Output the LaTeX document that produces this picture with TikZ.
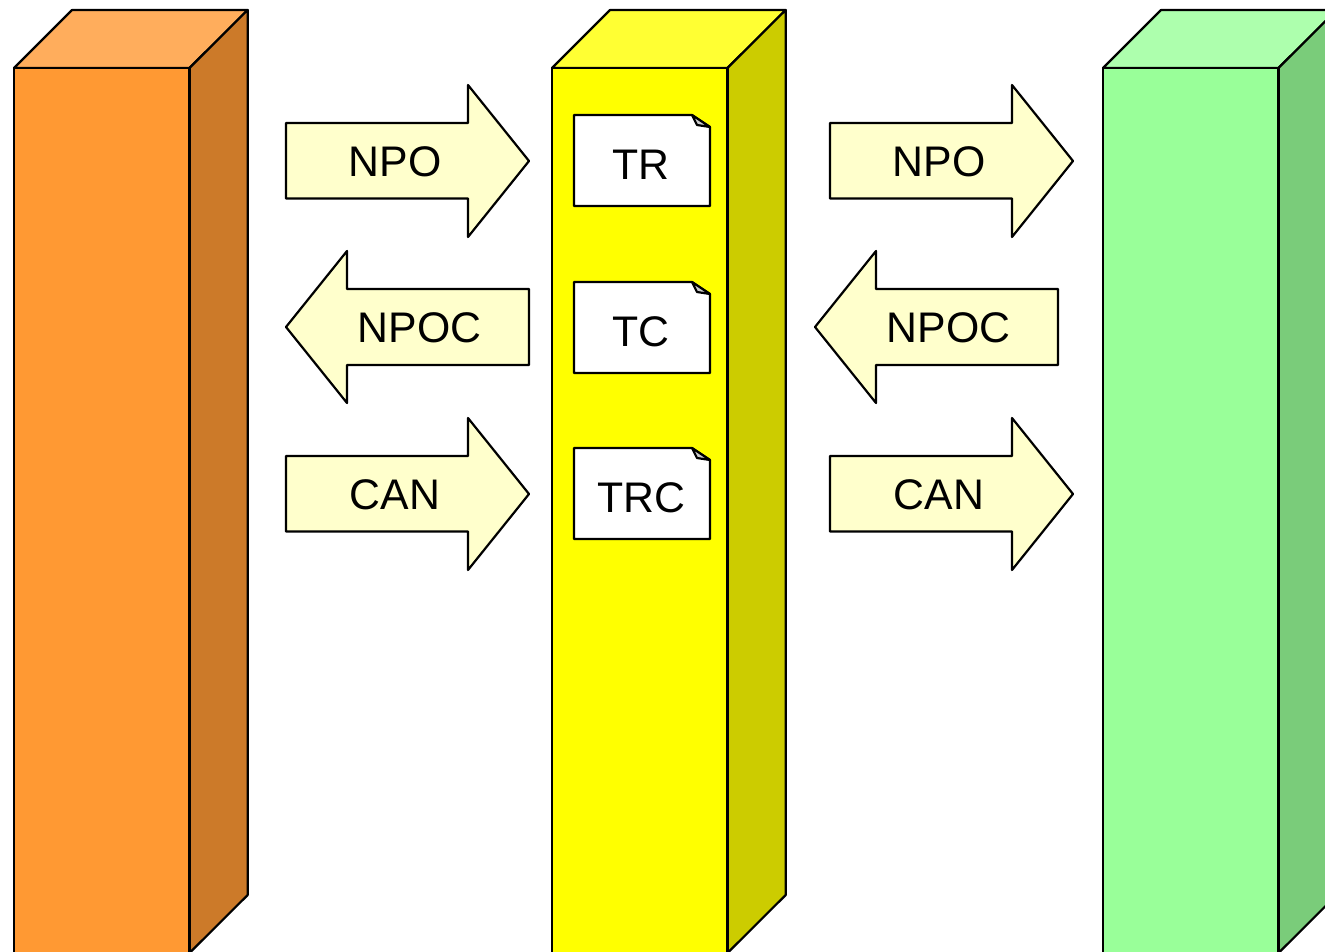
\documentclass[tikz,border=0pt]{standalone}
\usepackage{fontspec}
\setmainfont{Liberation Sans}
\definecolor{orF}{HTML}{FF9933}\definecolor{orT}{HTML}{FFAD5C}\definecolor{orS}{HTML}{CC7A29}
\definecolor{yeF}{HTML}{FFFF00}\definecolor{yeT}{HTML}{FFFF33}\definecolor{yeS}{HTML}{CCCC00}
\definecolor{grF}{HTML}{99FF99}\definecolor{grT}{HTML}{ADFFAD}\definecolor{grS}{HTML}{7ACC7A}
\definecolor{arF}{HTML}{FFFFCC}\definecolor{foldF}{HTML}{CCCCCC}
\tikzset{
  outline/.style={draw=black,line width=2.2pt,line join=round},
  arrowbox/.style={outline,fill=arF},
  notebox/.style={outline,fill=white},
  lbl/.style={font=\fontsize{42.8}{43}\selectfont,text=black,inner sep=0pt,anchor=center},
}
% column: #1 left x, #2 front colour, #3 top colour, #4 side colour
\newcommand{\columnbox}[4]{%
  \pgfmathsetmacro{\xb}{#1+175.5}\pgfmathsetmacro{\xc}{#1+58}\pgfmathsetmacro{\xd}{#1+233.7}
  \path[outline,fill=#3] (#1,68) -- (\xc,10) -- (\xd,10) -- (\xb,68) -- cycle;
  \path[outline,fill=#4] (\xb,68) -- (\xd,10) -- (\xd,895) -- (\xb,953) -- cycle;
  \path[outline,fill=#2] (#1,68) -- (\xb,68) -- (\xb,960) -- (#1,960) -- cycle;
}
% right arrow: #1 name, #2 left x, #3 centre y, #4 text
\newcommand{\rarrow}[4]{%
  \pgfmathsetmacro{\xn}{#2+182}\pgfmathsetmacro{\xt}{#2+243}\pgfmathsetmacro{\xm}{#2+109}
  \pgfmathsetmacro{\ya}{#3-38}\pgfmathsetmacro{\yb}{#3+37.5}\pgfmathsetmacro{\yc}{#3-76}\pgfmathsetmacro{\yd}{#3+76}
  \pgfmathsetmacro{\yl}{#3+0.6}
  \path[arrowbox] (#2,\ya) -- (\xn,\ya) -- (\xn,\yc) -- (\xt,#3) -- (\xn,\yd) -- (\xn,\yb) -- (#2,\yb) -- cycle;
  \node[lbl] (#1) at (\xm,\yl) {#4};
}
% left arrow: #1 name, #2 tip x, #3 centre y, #4 text
\newcommand{\larrow}[4]{%
  \pgfmathsetmacro{\xn}{#2+61}\pgfmathsetmacro{\xt}{#2+243}\pgfmathsetmacro{\xm}{#2+133.5}
  \pgfmathsetmacro{\ya}{#3-38}\pgfmathsetmacro{\yb}{#3+38}\pgfmathsetmacro{\yc}{#3-76}\pgfmathsetmacro{\yd}{#3+76}
  \pgfmathsetmacro{\yl}{#3+0.6}
  \path[arrowbox] (\xt,\ya) -- (\xn,\ya) -- (\xn,\yc) -- (#2,#3) -- (\xn,\yd) -- (\xn,\yb) -- (\xt,\yb) -- cycle;
  \node[lbl] (#1) at (\xm,\yl) {#4};
}
% note: #1 name, #2 top y, #3 text
\newcommand{\notecard}[3]{%
  \pgfmathsetmacro{\yf}{#2+12}\pgfmathsetmacro{\yi}{#2+10}\pgfmathsetmacro{\ye}{#2+91}\pgfmathsetmacro{\ym}{#2+50}
  \path[notebox] (574,#2) -- (692,#2) -- (710,\yf) -- (710,\ye) -- (574,\ye) -- cycle;
  \path[notebox,fill=foldF] (692,#2) -- (710,\yf) -- (697,\yi) -- cycle;
  \node[lbl] (#1) at (641,\ym) {#3};
}
\begin{document}
\begin{tikzpicture}[x=1pt,y=-1pt]
\useasboundingbox (0,0) rectangle (1325,952);
\clip (0,0) rectangle (1325,952);
\columnbox{14}{orF}{orT}{orS}
\columnbox{552}{yeF}{yeT}{yeS}
\columnbox{1103}{grF}{grT}{grS}
\rarrow{npoL}{286}{161}{NPO}
\larrow{npocL}{286}{327}{NPOC}
\rarrow{canL}{286}{494}{CAN}
\rarrow{npoR}{830}{161}{NPO}
\larrow{npocR}{815}{327}{NPOC}
\rarrow{canR}{830}{494}{CAN}
\notecard{tr}{115}{TR}
\notecard{tc}{282}{TC}
\notecard{trc}{448}{TRC}
\end{tikzpicture}
\end{document}
